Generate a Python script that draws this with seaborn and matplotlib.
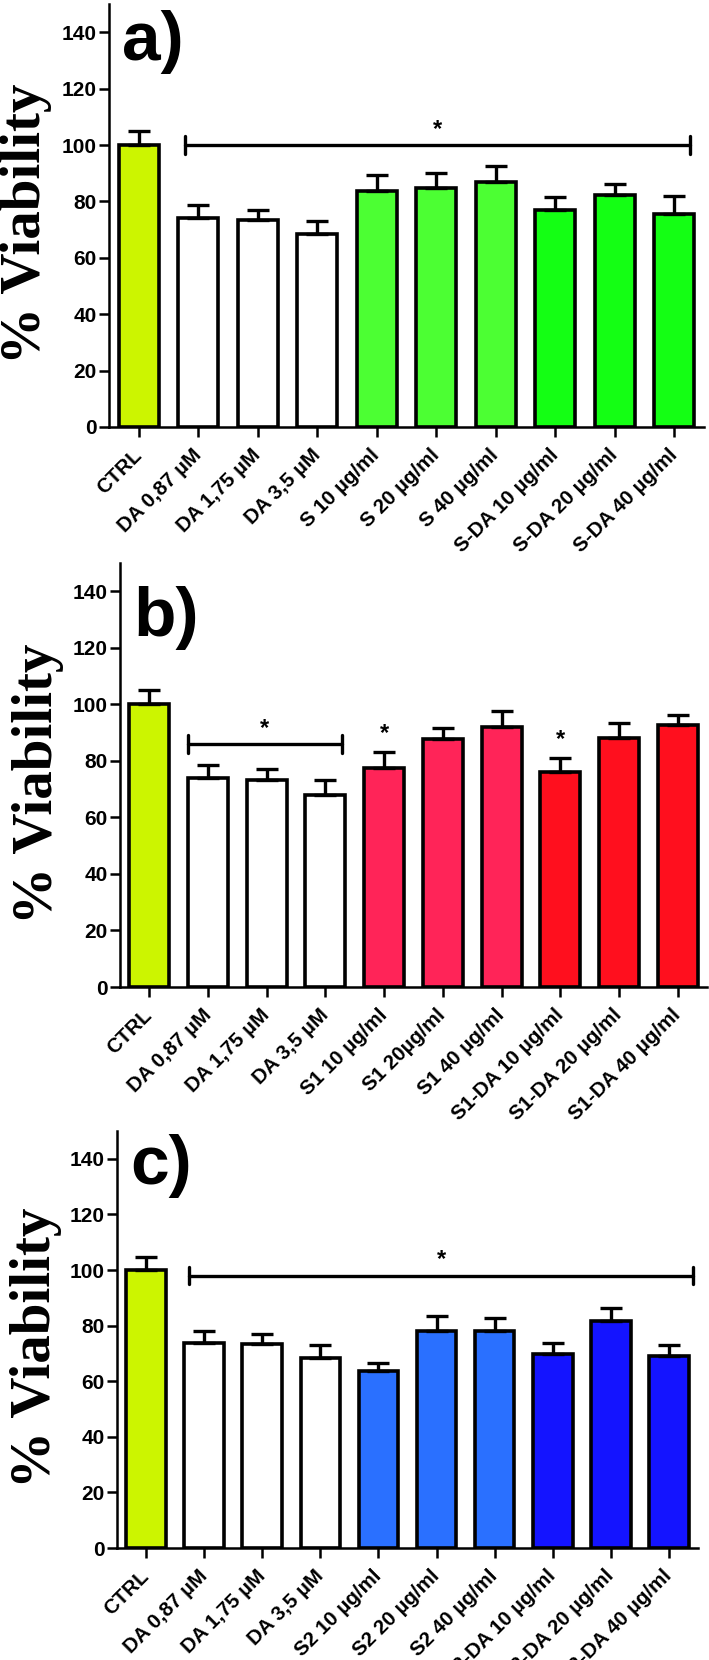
import numpy as np
import pandas as pd
import matplotlib
matplotlib.use("Agg")
import matplotlib.pyplot as plt
import seaborn as sns

sns.set_style("ticks", {'axes.edgecolor': 'black', 'text.color': 'black',
                        'xtick.color': 'black', 'ytick.color': 'black'})
plt.rcParams['font.family'] = ['Liberation Sans', 'DejaVu Sans']

# ---- data ----
labels_a = ['CTRL', 'DA 0,87 µM', 'DA 1,75 µM', 'DA 3,5 µM', 'S 10 µg/ml', 'S 20 µg/ml',
            'S 40 µg/ml', 'S-DA 10 µg/ml', 'S-DA 20 µg/ml', 'S-DA 40 µg/ml']
means_a = [100, 74.0, 73.3, 68.3, 83.8, 84.9, 86.9, 77.1, 82.1, 75.5]
sem_a = [4.8, 4.6, 3.8, 4.8, 5.5, 5.0, 5.6, 4.3, 4.2, 6.3]

labels_b = ['CTRL', 'DA 0,87 µM', 'DA 1,75 µM', 'DA 3,5 µM', 'S1 10 µg/ml', 'S1 20µg/ml',
            'S1 40 µg/ml', 'S1-DA 10 µg/ml', 'S1-DA 20 µg/ml', 'S1-DA 40 µg/ml']
means_b = [100, 74.0, 73.3, 68.0, 77.5, 87.7, 92.0, 75.9, 88.2, 92.8]
sem_b = [5.0, 4.4, 3.8, 5.3, 5.7, 4.0, 5.8, 5.0, 5.1, 3.4]

labels_c = ['CTRL', 'DA 0,87 µM', 'DA 1,75 µM', 'DA 3,5 µM', 'S2 10 µg/ml', 'S2 20 µg/ml',
            'S2 40 µg/ml', 'S2-DA 10 µg/ml', 'S2-DA 20 µg/ml', 'S2-DA 40 µg/ml']
means_c = [100, 73.7, 73.3, 68.2, 63.8, 78.0, 78.2, 69.8, 81.8, 68.9]
sem_c = [4.8, 4.5, 3.6, 4.9, 2.8, 5.6, 4.5, 3.9, 4.4, 4.2]

ctrl_col = '#CCF500'
colors_a = [ctrl_col] + ['white'] * 3 + ['#4CFF33'] * 3 + ['#14FF14'] * 3
colors_b = [ctrl_col] + ['white'] * 3 + ['#FF2458'] * 3 + ['#FF0F1E'] * 3
colors_c = [ctrl_col] + ['white'] * 3 + ['#2A70FF'] * 3 + ['#1414FF'] * 3

# significance brackets: (x start, x end, y) and lone stars: (x, y)
bracket_a = (0.78, 9.27, 100)
bracket_b = (0.65, 3.28, 86)
bracket_c = (0.74, 9.42, 98)
stars_b = [(4, 85.5), (7, 83.5)]

panels = [
    ('a)', labels_a, means_a, sem_a, colors_a, bracket_a, [], (109, 4, 595, 423), 130),
    ('b)', labels_b, means_b, sem_b, colors_b, bracket_b, stars_b, (120, 563, 587, 424), 124),
    ('c)', labels_c, means_c, sem_c, colors_c, bracket_c, [], (117, 1131, 581, 417), 131),
]

W, H = 709, 1660
fig = plt.figure(figsize=(W / 100, H / 100), dpi=100)

for tag, labels, means, sems, colors, bracket, stars, (px, py, pw, ph), tag_y in panels:
    ax = fig.add_axes([px / W, 1 - (py + ph) / H, pw / W, ph / H])
    df = pd.DataFrame({'group': labels, 'viability': means})
    sns.barplot(data=df, x='group', y='viability', hue='group', palette=colors,
                saturation=1, edgecolor='black', linewidth=2.6, width=0.68,
                legend=False, ax=ax)
    x = np.arange(len(labels))
    ax.errorbar(x, means, yerr=[np.zeros(len(sems)), sems], fmt='none', ecolor='black',
                elinewidth=2.4, capsize=8, capthick=2.4, zorder=1)

    # bracket with end caps and star
    x0, x1, yb = bracket
    ax.plot([x0, x1], [yb, yb], color='black', lw=2.4)
    ax.plot([x0, x0], [yb - 3.2, yb + 3.2], color='black', lw=2.4)
    ax.plot([x1, x1], [yb - 3.2, yb + 3.2], color='black', lw=2.4)
    ax.text((x0 + x1) / 2, yb + 1.5, '*', ha='center', va='bottom', fontsize=17,
            fontweight='bold', color='black')
    for sx, sy in stars:
        ax.text(sx, sy, '*', ha='center', va='bottom', fontsize=17, fontweight='bold',
                color='black')

    ax.set_xlim(-0.5, 9.5)
    ax.set_ylim(0, 150)
    ax.set_yticks(range(0, 141, 20))
    ax.set_xlabel('')
    ax.set_ylabel('')
    sns.despine(ax=ax)
    for s in ['left', 'bottom']:
        ax.spines[s].set_linewidth(1.8)
        ax.spines[s].set_color('black')
    ax.tick_params(axis='y', length=7, width=1.8, pad=2, color='black', labelcolor='black')
    ax.tick_params(axis='x', length=7, width=1.8, pad=11, color='black', labelcolor='black')
    for t in ax.get_yticklabels():
        t.set_fontsize(15)
        t.set_fontweight('bold')
    ax.set_xticks(x)
    ax.set_xticklabels(labels, rotation=45, ha='right', va='center', rotation_mode='anchor',
                       fontsize=14.8, fontweight='bold')

    ax.text(0.022, tag_y, tag, transform=ax.get_yaxis_transform(), fontsize=50,
            fontweight='bold', ha='left', va='baseline', color='black')
    ax.text(-0.14, 0.48, '% Viability', transform=ax.transAxes, rotation=90, ha='center',
            va='center', fontsize=41, fontweight='bold', family='Liberation Serif',
            color='black')

fig.savefig('out.png', dpi=100)
